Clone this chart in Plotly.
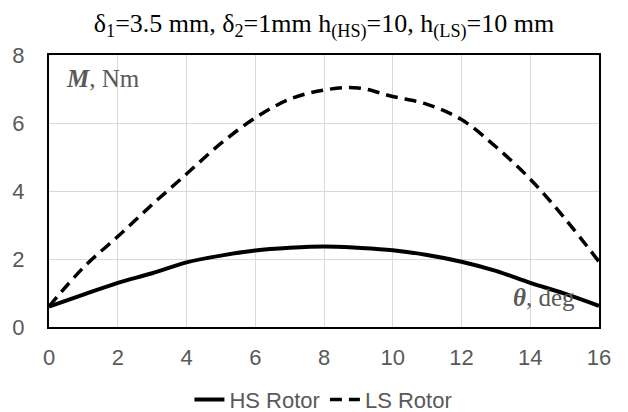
import plotly.graph_objects as go

theta = list(range(0, 17))
hs_rotor = [0.6, 0.95, 1.3, 1.58, 1.9, 2.1, 2.25, 2.33, 2.37, 2.33, 2.26, 2.12, 1.92, 1.65, 1.3, 0.98, 0.62]
ls_rotor = [0.6, 1.75, 2.66, 3.6, 4.5, 5.4, 6.15, 6.7, 6.97, 7.03, 6.78, 6.55, 6.1, 5.3, 4.35, 3.2, 1.92]
x_ticks = [0, 2, 4, 6, 8, 10, 12, 14, 16]
y_ticks = [0, 2, 4, 6, 8]

SERIF = "Liberation Serif, Times New Roman, serif"
SANS = "Liberation Sans Narrow, Liberation Sans, Arial, sans-serif"

fig = go.Figure()
fig.add_trace(go.Scatter(x=theta, y=hs_rotor, mode="lines", name="HS Rotor",
                         line=dict(color="black", width=4, shape="spline")))
fig.add_trace(go.Scatter(x=theta, y=ls_rotor, mode="lines", name="LS Rotor",
                         line=dict(color="black", width=3.5, dash="12px,7px", shape="spline")))

fig.update_layout(
    width=628, height=412,
    margin=dict(l=49, r=29, t=55, b=85, autoexpand=False),
    paper_bgcolor="white", plot_bgcolor="white",
    title=dict(text="δ<sub>1</sub>=3.5 mm, δ<sub>2</sub>=1mm h<sub>(HS)</sub>=10, h<sub>(LS)</sub>=10 mm",
               x=0.5, xanchor="center", xref="paper", y=0.945, yanchor="middle",
               font=dict(family=SERIF, size=26, color="black")),
    xaxis=dict(range=[0, 16], tickvals=x_ticks, showgrid=True, gridcolor="#d9d9d9", gridwidth=1,
               zeroline=False, showline=True, linecolor="black", linewidth=2, mirror=True,
               ticks="", ticklabelstandoff=10, automargin=False,
               tickfont=dict(family=SANS, size=22, color="#595959")),
    yaxis=dict(range=[0, 8], tickvals=y_ticks, showgrid=True, gridcolor="#d9d9d9", gridwidth=1,
               zeroline=False, showline=True, linecolor="black", linewidth=2, mirror=True,
               ticks="", ticklabelstandoff=18, automargin=False,
               tickfont=dict(family=SANS, size=22, color="#595959")),
    legend=dict(orientation="h", x=0.515, xanchor="center", xref="container",
                y=0.03, yanchor="middle", yref="container",
                font=dict(family=SANS, size=22, color="#595959"),
                bgcolor="rgba(0,0,0,0)"),
    showlegend=True,
)

fig.add_annotation(xref="paper", yref="paper", x=0.027, y=0.915, xanchor="left", yanchor="middle",
                   text="<b><i>M</i></b>, Nm", showarrow=False,
                   font=dict(family=SERIF, size=25, color="#595959"))
fig.add_annotation(xref="paper", yref="paper", x=0.96, y=0.11, xanchor="right", yanchor="middle",
                   text="<b><i>θ</i></b>, deg", showarrow=False,
                   font=dict(family=SERIF, size=25, color="#595959"))

fig.write_html("out.html")
